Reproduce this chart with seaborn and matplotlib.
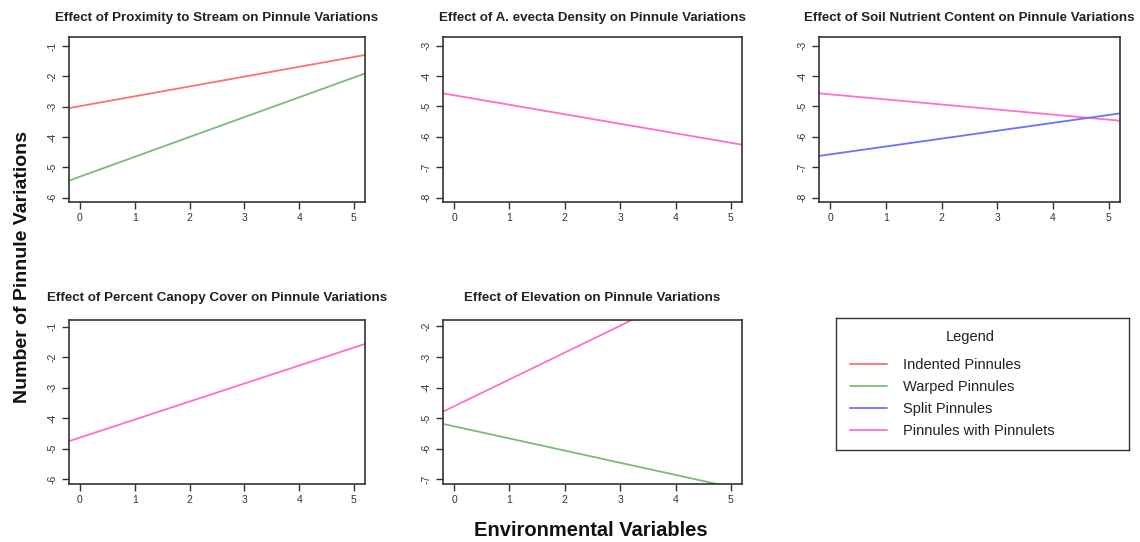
import pandas as pd
import matplotlib
matplotlib.use("Agg")
import matplotlib.pyplot as plt
import seaborn as sns

sns.set_style("ticks")
plt.rcParams["font.family"] = ["Liberation Sans", "DejaVu Sans"]

# line colours per pinnule type
colors = {
    "Indented Pinnules": "#ff6f6f",
    "Warped Pinnules": "#79bb79",
    "Split Pinnules": "#6f6fff",
    "Pinnules with Pinnulets": "#ff6fc8",
}

titles = [
    "Effect of Proximity to Stream on Pinnule Variations",
    "Effect of A. evecta Density on Pinnule Variations",
    "Effect of Soil Nutrient Content on Pinnule Variations",
    "Effect of Percent Canopy Cover on Pinnule Variations",
    "Effect of Elevation on Pinnule Variations",
]

# fitted lines, read at the two ends of the x range
x_ends = [-0.2, 5.2]
prox_indented = [-3.05, -1.30]
prox_warped = [-5.44, -1.91]
dens_pinnulets = [-4.57, -6.26]
soil_pinnulets = [-4.57, -5.47]
soil_split = [-6.63, -5.23]
canopy_pinnulets = [-4.75, -1.57]
elev_pinnulets = [-4.79, -0.04]
elev_warped = [-5.19, -7.34]

panel_lines = [
    [("Indented Pinnules", prox_indented), ("Warped Pinnules", prox_warped)],
    [("Pinnules with Pinnulets", dens_pinnulets)],
    [("Pinnules with Pinnulets", soil_pinnulets), ("Split Pinnules", soil_split)],
    [("Pinnules with Pinnulets", canopy_pinnulets)],
    [("Pinnules with Pinnulets", elev_pinnulets), ("Warped Pinnules", elev_warped)],
]

y_ticks = [
    [-6, -5, -4, -3, -2, -1],
    [-8, -7, -6, -5, -4, -3],
    [-8, -7, -6, -5, -4, -3],
    [-6, -5, -4, -3, -2, -1],
    [-7, -6, -5, -4, -3, -2],
]
y_lims = [(-6.15, -0.72), (-8.15, -2.73), (-8.15, -2.73), (-6.15, -0.78), (-7.16, -1.78)]
x_ticks = [0, 1, 2, 3, 4, 5]

fig = plt.figure(figsize=(11.4, 5.42), dpi=100)

# axes boxes in figure fractions (left, bottom, width, height)
boxes = [
    (0.0605, 0.627, 0.2596, 0.304),
    (0.3886, 0.627, 0.2623, 0.304),
    (0.7184, 0.627, 0.2640, 0.304),
    (0.0605, 0.107, 0.2596, 0.303),
    (0.3886, 0.107, 0.2623, 0.303),
]

for i, box in enumerate(boxes):
    ax = fig.add_axes(box)
    for name, ys in panel_lines[i]:
        df = pd.DataFrame({"x": x_ends, "y": ys})
        sns.lineplot(data=df, x="x", y="y", ax=ax, color=colors[name], linewidth=1.3)
    ax.set_xlim(-0.2, 5.2)
    ax.set_ylim(*y_lims[i])
    ax.set_xticks(x_ticks)
    ax.set_yticks(y_ticks[i])
    ax.set_yticklabels([str(v) for v in y_ticks[i]], rotation=90, va="center")
    ax.tick_params(axis="both", labelsize=7.5, colors="#333333", length=5, width=1, pad=3)
    ax.set_xlabel("")
    ax.set_ylabel("")
    for sp in ax.spines.values():
        sp.set_visible(True)
        sp.set_color("#333333")
        sp.set_linewidth(1.2)
    ax.set_title(titles[i], fontsize=9.6, fontweight="bold", color="#222222",
                 pad=12 if i < 3 else 13.5)

# legend panel
lax = fig.add_axes((0.733, 0.17, 0.257, 0.243))
lax.set_xticks([])
lax.set_yticks([])
for sp in lax.spines.values():
    sp.set_color("#333333")
    sp.set_linewidth(1)
lax.text(0.46, 0.86, "Legend", transform=lax.transAxes, ha="center", va="center",
         fontsize=10.5, color="#222222")
handles = [plt.Line2D([0], [0], color=c, linewidth=1.3) for c in colors.values()]
leg = lax.legend(handles, list(colors.keys()), loc="upper left",
                 bbox_to_anchor=(0.05, 0.70), frameon=False, fontsize=10.5,
                 handlelength=2.5, handletextpad=1.1, labelspacing=0.55,
                 borderaxespad=0.0, borderpad=0.0)
for t in leg.get_texts():
    t.set_color("#222222")

fig.text(0.0195, 0.507, "Number of Pinnule Variations", rotation=90, ha="center",
         va="center", fontsize=14, fontweight="bold", color="#111111")
fig.text(0.518, 0.022, "Environmental Variables", ha="center", va="center",
         fontsize=14.5, fontweight="bold", color="#111111")

fig.savefig("out.png", dpi=100)
